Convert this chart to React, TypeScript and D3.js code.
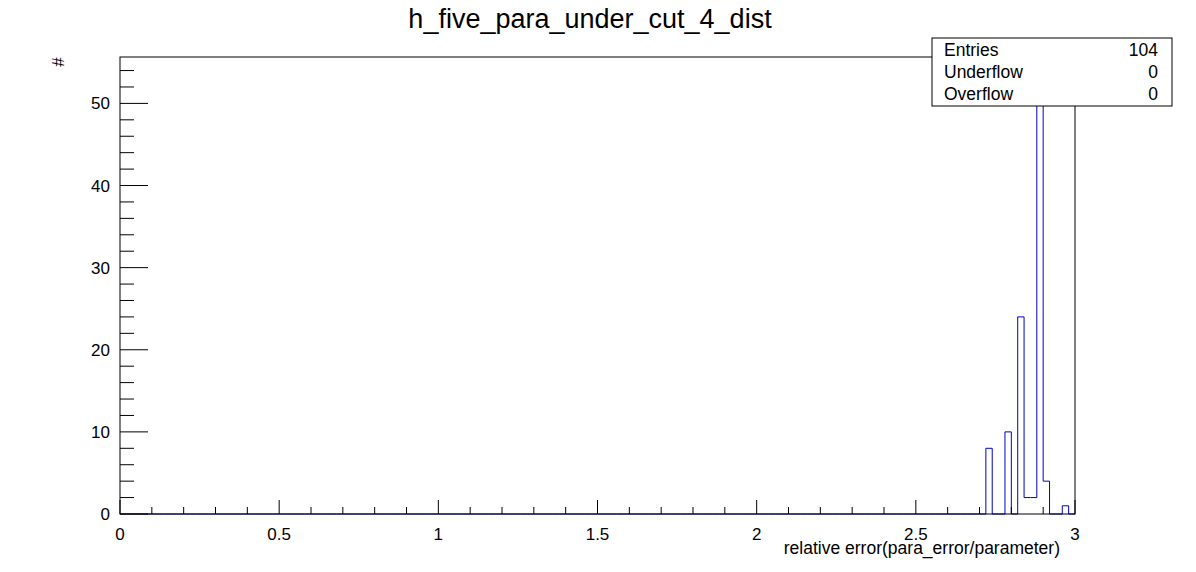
import * as d3 from "d3";

const binEdges = d3.range(0, 151).map((i) => i * 0.02);
const filledBins: [number, number][] = [
  [2.72, 8],
  [2.78, 10],
  [2.82, 24],
  [2.84, 2],
  [2.86, 2],
  [2.88, 53],
  [2.9, 4],
  [2.96, 1],
];
const xTicks = [0, 0.5, 1, 1.5, 2, 2.5, 3];
const xTickLabels = ["0", "0.5", "1", "1.5", "2", "2.5", "3"];
const yTicks = [0, 10, 20, 30, 40, 50];
const statsRows = [
  ["Entries", "104"],
  ["Underflow", "0"],
  ["Overflow", "0"],
];

const W = 1196;
const H = 572;
const left = 120;
const right = 1075;
const top = 57;
const bottom = 514;

export default function App() {
  const x = d3.scaleLinear().domain([0, 3]).range([left, right]);
  const y = d3.scaleLinear().domain([0, 55.65]).range([bottom, top]);

  const counts = binEdges.slice(0, -1).map((e) => {
    const f = filledBins.find(([lo]) => Math.abs(lo - e) < 1e-6);
    return f ? f[1] : 0;
  });

  let path = `M${x(0)},${y(0)}`;
  counts.forEach((c, i) => {
    const yc = Math.max(y(c), top);
    path += `L${x(binEdges[i])},${yc}L${x(binEdges[i + 1])},${yc}`;
  });
  path += `L${x(3)},${y(0)}`;

  const xMinor = d3.range(0, 3.0001, 0.1);
  const yMinor = d3.range(0, 55.01, 2);
  const font = "Liberation Sans, Arial, sans-serif";

  return (
    <svg width={W} height={H} style={{ position: "absolute", left: 0, top: 0, background: "#fff" }} fontFamily={font}>
      <rect x={0} y={0} width={W} height={H} fill="#fff" />
      <text x={590} y={28} fontSize={27} textAnchor="middle">h_five_para_under_cut_4_dist</text>
      <path d={path} fill="none" stroke="#0000cc" strokeWidth={1} />
      <rect x={left} y={top} width={right - left} height={bottom - top} fill="none" stroke="#000" />
      {xMinor.map((v, i) => (
        <line key={"xm" + i} x1={x(v)} x2={x(v)} y1={bottom} y2={bottom - (i % 5 === 0 ? 14 : 7)} stroke="#000" />
      ))}
      {xTicks.map((v, i) => (
        <text key={"xt" + i} x={x(v)} y={540} fontSize={17} textAnchor="middle">{xTickLabels[i]}</text>
      ))}
      {yMinor.map((v, i) => (
        <line key={"ym" + i} x1={left} x2={left + (v % 10 === 0 ? 28 : 14)} y1={y(v)} y2={y(v)} stroke="#000" />
      ))}
      {yTicks.map((v) => (
        <text key={"yt" + v} x={110} y={y(v) + 6} fontSize={17} textAnchor="end">{v}</text>
      ))}
      <text x={1060} y={554} fontSize={17.5} textAnchor="end">relative error(para_error/parameter)</text>
      <text x={58} y={68} fontSize={17} textAnchor="middle" transform="rotate(-90 58 62)">#</text>
      <rect x={932} y={38} width={240} height={68} fill="#fff" stroke="#000" />
      {statsRows.map(([k, v], i) => (
        <g key={k}>
          <text x={944} y={56 + i * 22} fontSize={17.5}>{k}</text>
          <text x={1158} y={56 + i * 22} fontSize={17.5} textAnchor="end">{v}</text>
        </g>
      ))}
    </svg>
  );
}
